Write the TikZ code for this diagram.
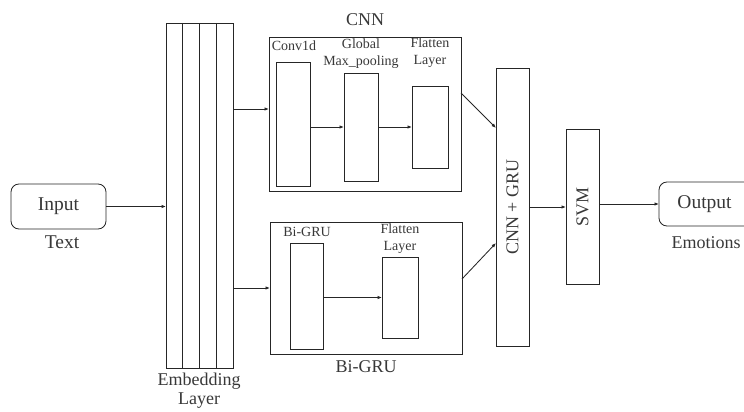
\documentclass[tikz,border=0pt]{standalone}
\usepackage{fontspec}
\setmainfont{Liberation Serif}
\usetikzlibrary{arrows.meta,calc}
\begin{document}
\begin{tikzpicture}[x=1pt,y=-1pt,
  line/.style={draw=black!85,line width=0.85pt},
  box/.style={line,inner sep=0pt,outer sep=0pt,anchor=north west},
  rbox/.style={box,rounded corners=8pt},
  arr/.style={line,-{Latex[length=4.5pt,width=3.5pt]}},
  lbl/.style={text=black!78,inner sep=0pt,align=center},
  big/.style={lbl,font=\fontsize{18}{19}\selectfont},
  huge/.style={lbl,font=\fontsize{19.5}{21}\selectfont},
  small/.style={lbl,font=\fontsize{14}{17}\selectfont}]
\useasboundingbox (0,0) rectangle (744,412);
\clip (0,0) rectangle (744,412);

% input
\node[rbox,minimum width=95pt,minimum height=45pt] (input) at (11,184) {};
\node[huge] at (input.center) {Input};
\node[huge] (intext) at (62,242) {Text};

% embedding layer
\node[box,minimum width=67pt,minimum height=345pt] (emb) at (166,23) {};
\foreach \xx in {182,199,216} \draw[line] (\xx,23) -- (\xx,368);
\node[big] (emblbl) at (199,391) {Embedding\\Layer};

% CNN branch
\node[box,minimum width=192pt,minimum height=154pt] (cnn) at (269,37) {};
\node[big] (cnnlbl) at (365,20) {CNN};
\node[box,minimum width=34pt,minimum height=124pt] (conv) at (276,62) {};
\node[box,minimum width=34pt,minimum height=108pt] (pool) at (344,73) {};
\node[box,minimum width=36pt,minimum height=82pt] (flat1) at (412,86) {};
\node[small] (convlbl) at (294,46) {Conv1d};
\node[small] (poollbl) at (361,54) {Global\\Max\_pooling};
\node[small] (flat1lbl) at (430,53) {Flatten\\Layer};

% Bi-GRU branch
\node[box,minimum width=192pt,minimum height=132pt] (gru) at (270,222) {};
\node[big] (grulbl) at (366,367) {Bi-GRU};
\node[box,minimum width=33pt,minimum height=106pt] (bigru) at (290,243) {};
\node[box,minimum width=36pt,minimum height=81pt] (flat2) at (382,257) {};
\node[small] (bigrulbl) at (307,232) {Bi-GRU};
\node[small] (flat2lbl) at (400,239) {Flatten\\Layer};

% fusion, classifier, output
\node[box,minimum width=33pt,minimum height=278pt] (cg) at (496,68) {};
\node[big,rotate=90] at (cg.center) {CNN + GRU};
\node[box,minimum width=33pt,minimum height=155pt] (svm) at (566,129) {};
\node[big,rotate=90] at (svm.center) {SVM};
\node[rbox,minimum width=95pt,minimum height=44pt] (out) at (659,182) {};
\node[huge] at ([xshift=-2pt]out.center) {Output};
\node[big] (outtext) at (706,243) {Emotions};

% connectors
\coordinate (ycnn) at (0,109);
\coordinate (ycnnout) at (0,93);
\coordinate (ycgtop) at (0,128);
\coordinate (ygruout) at (0,279);
\coordinate (ycgbot) at (0,243);
\draw[arr] (input.east) -- (input.east -| emb.west);
\draw[arr] (ycnn -| emb.east) -- (ycnn -| cnn.west);
\draw[arr] (emb.east |- gru.west) -- (gru.west);
\draw[arr] (conv.east |- pool.west) -- (pool.west);
\draw[arr] (pool.east) -- (flat1.west);
\draw[arr] (bigru.east |- flat2.west) -- (flat2.west);
\draw[arr] (ycnnout -| cnn.east) -- (ycgtop -| cg.west);
\draw[arr] (ygruout -| gru.east) -- (ycgbot -| cg.west);
\draw[arr] (cg.east) -- (cg.east -| svm.west);
\draw[arr] (svm.east |- out.west) -- (out.west);
\end{tikzpicture}
\end{document}
